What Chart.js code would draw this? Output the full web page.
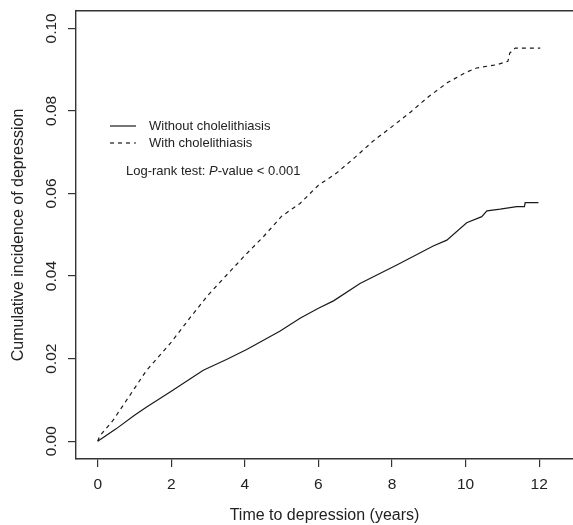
<!DOCTYPE html>
<html>
<head>
<meta charset="utf-8">
<script src="https://cdn.jsdelivr.net/npm/chart.js@4/dist/chart.umd.min.js"></script>
<style>
  html, body { margin: 0; padding: 0; background: #fff; overflow: hidden; }
  canvas { display: block; }
</style>
</head>
<body>
<canvas id="km" width="573" height="525"></canvas>
<script>
// values (years, cumulative incidence)
const seriesLabels = ["Without cholelithiasis", "With cholelithiasis"];

const withoutYears = [0, 0.5, 1.0, 1.33, 2.0, 2.87, 3.5, 4.05, 4.96, 5.5, 6.0, 6.41, 7.13, 8.13, 9.12, 9.49, 10.03, 10.44, 10.58, 10.94, 11.39, 11.6, 11.62, 11.98];
const withoutIncidence = [0, 0.0030, 0.0063, 0.0083, 0.0121, 0.0172, 0.0198, 0.0222, 0.0267, 0.0298, 0.0322, 0.0340, 0.0382, 0.0427, 0.0473, 0.0487, 0.0529, 0.0544, 0.0558, 0.0562, 0.0568, 0.0568, 0.0578, 0.0578];

const withYears = [0, 0.05, 0.42, 1.0, 1.33, 1.5, 2.0, 2.5, 3.0, 3.5, 4.0, 4.5, 5.0, 5.5, 6.0, 6.5, 7.0, 7.5, 8.0, 8.5, 9.0, 9.5, 10.0, 10.3, 10.85, 11.15, 11.2, 11.35, 12.03];
const withIncidence = [0, 0.0012, 0.0051, 0.0128, 0.0172, 0.0189, 0.0240, 0.0298, 0.0354, 0.0402, 0.0450, 0.0495, 0.0545, 0.0576, 0.0620, 0.0650, 0.0688, 0.0728, 0.0762, 0.0797, 0.0835, 0.0868, 0.0893, 0.0904, 0.0912, 0.0920, 0.0940, 0.0952, 0.0952];

const xTicks = [0, 2, 4, 6, 8, 10, 12];
const yTicks = [0, 0.02, 0.04, 0.06, 0.08, 0.10];
const yTickLabels = ["0.00", "0.02", "0.04", "0.06", "0.08", "0.10"];
const testNote = ["Log-rank test: ", "P", "-value < 0.001"];

const FONT = '"Liberation Sans", Arial, Helvetica, sans-serif';
const INK = '#222';
const AXIS = '#333';

const pairs = (xs, ys) => xs.map((x, i) => ({ x: x, y: ys[i] }));

// legend + test note drawn inside the plot, like the R original
const insideLegend = {
  id: 'insideLegend',
  afterDraw(chart) {
    const ctx = chart.ctx;
    const { left, top } = chart.chartArea;
    ctx.save();
    ctx.font = '13px ' + FONT;
    ctx.fillStyle = INK;
    ctx.textBaseline = 'middle';
    chart.data.datasets.forEach((ds, i) => {
      const y = top + 115 + i * 17;
      ctx.strokeStyle = ds.borderColor;
      ctx.lineWidth = ds.borderWidth;
      ctx.setLineDash(ds.borderDash || []);
      ctx.beginPath();
      ctx.moveTo(left + 34, y);
      ctx.lineTo(left + 60, y);
      ctx.stroke();
      ctx.fillText(ds.label, left + 73, y);
    });
    ctx.setLineDash([]);
    let x = left + 50;
    const y = top + 160;
    testNote.forEach((part, i) => {
      ctx.font = (i === 1 ? 'italic ' : '') + '13px ' + FONT;
      ctx.fillText(part, x, y);
      x += ctx.measureText(part).width;
    });
    ctx.restore();
  }
};

new Chart(document.getElementById('km'), {
  type: 'line',
  data: {
    datasets: [
      {
        label: seriesLabels[0],
        data: pairs(withoutYears, withoutIncidence),
        borderColor: '#1a1a1a',
        borderWidth: 1.2,
        pointRadius: 0,
        tension: 0
      },
      {
        label: seriesLabels[1],
        data: pairs(withYears, withIncidence),
        borderColor: '#1a1a1a',
        borderWidth: 1.2,
        borderDash: [4, 4],
        pointRadius: 0,
        tension: 0
      }
    ]
  },
  options: {
    responsive: false,
    animation: false,
    devicePixelRatio: 1,
    layout: { padding: { top: 11, left: 0, right: 0, bottom: 0 } },
    plugins: { legend: { display: false }, tooltip: { enabled: false } },
    scales: {
      x: {
        type: 'linear',
        position: 'bottom',
        min: -0.59,
        max: 12.92,
        afterBuildTicks: (s) => { s.ticks = xTicks.map(v => ({ value: v })); },
        afterFit: (s) => { s.height = 66; },
        grid: { display: true, drawOnChartArea: false, drawTicks: true, tickLength: 8, color: AXIS, lineWidth: 1.2 },
        border: { display: true, color: AXIS, width: 1.4 },
        ticks: { color: INK, padding: 8, font: { family: FONT, size: 15.5 }, maxRotation: 0 },
        title: { display: true, text: 'Time to depression (years)', color: INK, font: { family: FONT, size: 16 }, padding: { top: 0, bottom: 0 } }
      },
      x2: {
        type: 'linear',
        position: 'top',
        min: -0.59,
        max: 12.92,
        afterFit: (s) => { s.height = 0; },
        grid: { display: false, drawTicks: false },
        ticks: { display: false },
        border: { display: true, color: AXIS, width: 1.4 }
      },
      y: {
        type: 'linear',
        position: 'left',
        min: -0.0043,
        max: 0.1042,
        afterBuildTicks: (s) => { s.ticks = yTicks.map(v => ({ value: v })); },
        afterFit: (s) => { s.width = 76; },
        grid: { display: true, drawOnChartArea: false, drawTicks: true, tickLength: 8, color: AXIS, lineWidth: 1.2 },
        border: { display: true, color: AXIS, width: 1.4 },
        ticks: {
          color: INK,
          padding: 1,
          crossAlign: 'center',
          minRotation: 90,
          maxRotation: 90,
          font: { family: FONT, size: 15.5 },
          callback: (v) => yTickLabels[yTicks.indexOf(v)]
        },
        title: { display: true, text: 'Cumulative incidence of depression', color: INK, font: { family: FONT, size: 16 }, padding: { top: 9, bottom: 0 } }
      }
    }
  },
  plugins: [insideLegend]
});
</script>
</body>
</html>
